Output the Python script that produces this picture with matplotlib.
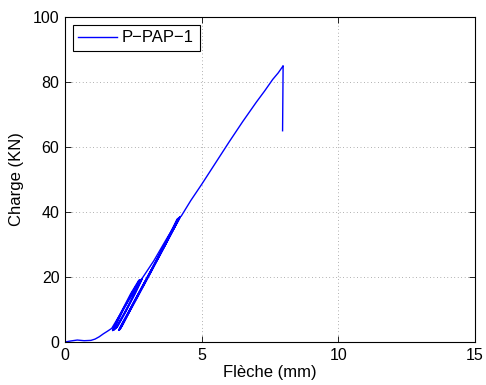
import matplotlib
matplotlib.use("Agg")
import matplotlib.pyplot as plt

# Initial loading (envelope) up to first cycle peak
x_load1 = [0.0, 0.2, 0.45, 0.7, 0.95, 1.1, 1.25, 1.4, 1.55, 1.71, 2.0, 2.4, 2.8]
y_load1 = [0.0, 0.3, 0.6, 0.4, 0.5, 0.9, 1.6, 2.5, 3.3, 4.2, 8.3, 13.8, 19.3]

# First unload/reload cycles (~19 kN)
x_cyc1 = [2.80, 2.56, 2.23, 1.90, 1.74, 1.78, 2.06, 2.40, 2.70,
          2.78, 2.54, 2.21, 1.88, 1.76, 1.81, 2.09, 2.43, 2.73,
          2.82, 2.58, 2.25, 1.92, 1.78, 1.83, 2.11, 2.46, 2.80]
y_cyc1 = [19.2, 15.0, 9.6, 4.6, 3.5, 4.5, 9.3, 14.8, 19.0,
          19.1, 15.0, 9.6, 4.6, 3.6, 4.6, 9.4, 14.9, 19.1,
          19.3, 15.1, 9.7, 4.7, 3.6, 4.7, 9.5, 15.0, 19.3]

# Loading to second cycle peak
x_load2 = [3.25, 3.7, 4.2]
y_load2 = [25.0, 31.5, 38.5]

# Second unload/reload cycles (~38 kN)
x_cyc2 = [4.20, 3.64, 3.05, 2.50, 2.10, 1.96, 2.04, 2.50, 3.05, 3.60, 4.10,
          4.18, 3.62, 3.03, 2.48, 2.09, 1.98, 2.07, 2.53, 3.08, 3.63, 4.13,
          4.22, 3.66, 3.07, 2.52, 2.12, 2.01, 2.10, 2.56, 3.11, 3.66, 4.20]
y_cyc2 = [38.2, 29.5, 20.3, 11.8, 5.2, 3.6, 5.0, 12.0, 20.6, 29.2, 37.8,
          38.0, 29.5, 20.3, 11.8, 5.2, 3.7, 5.2, 12.2, 20.8, 29.4, 38.0,
          38.5, 29.7, 20.5, 12.0, 5.4, 3.8, 5.3, 12.3, 20.9, 29.6, 38.5]

# Final loading to failure
x_load3 = [4.25, 4.6, 5.0, 5.5, 6.0, 6.5, 7.0, 7.3, 7.6, 7.8, 7.95, 7.98, 7.96]
y_load3 = [38.7, 43.5, 48.5, 55.0, 61.5, 67.8, 73.8, 77.2, 80.8, 82.8, 84.6, 85.0, 65.0]

x_all = x_load1 + x_cyc1 + x_load2 + x_cyc2 + x_load3
y_all = y_load1 + y_cyc1 + y_load2 + y_cyc2 + y_load3

xticks = [0, 5, 10, 15]
yticks = [0, 20, 40, 60, 80, 100]

plt.rcParams['font.family'] = ['Liberation Sans', 'DejaVu Sans']

fig = plt.figure(figsize=(4.86, 3.85), dpi=100)
ax = fig.add_axes([65/486, 43/385, 410/486, 325/385])
ax.plot(x_all, y_all, color=(0, 0, 1), lw=1.0, label='P\u2212PAP\u22121')
ax.set_xlim(0, 15)
ax.set_ylim(0, 100)
ax.set_xticks(xticks)
ax.set_yticks(yticks)
ax.tick_params(direction='in', length=4, width=0.6, top=True, right=True, labelsize=11.5)
ax.tick_params(axis='x', pad=4)
ax.tick_params(axis='y', pad=4)
ax.grid(True, linestyle=(0, (1, 4)), color='black', linewidth=0.5, alpha=0.6)
for s in ax.spines.values():
    s.set_linewidth(0.8)
ax.set_xlabel('Flèche (mm)', fontsize=12, labelpad=2)
ax.set_ylabel('Charge (KN)', fontsize=12, labelpad=6)
leg = ax.legend(loc='upper left', fancybox=False, edgecolor='black', framealpha=1,
                fontsize=12, borderpad=0.35, handlelength=2.3, borderaxespad=0.45,
                handletextpad=0.3)
leg.get_frame().set_linewidth(0.8)
fig.savefig('out.png', dpi=100)
